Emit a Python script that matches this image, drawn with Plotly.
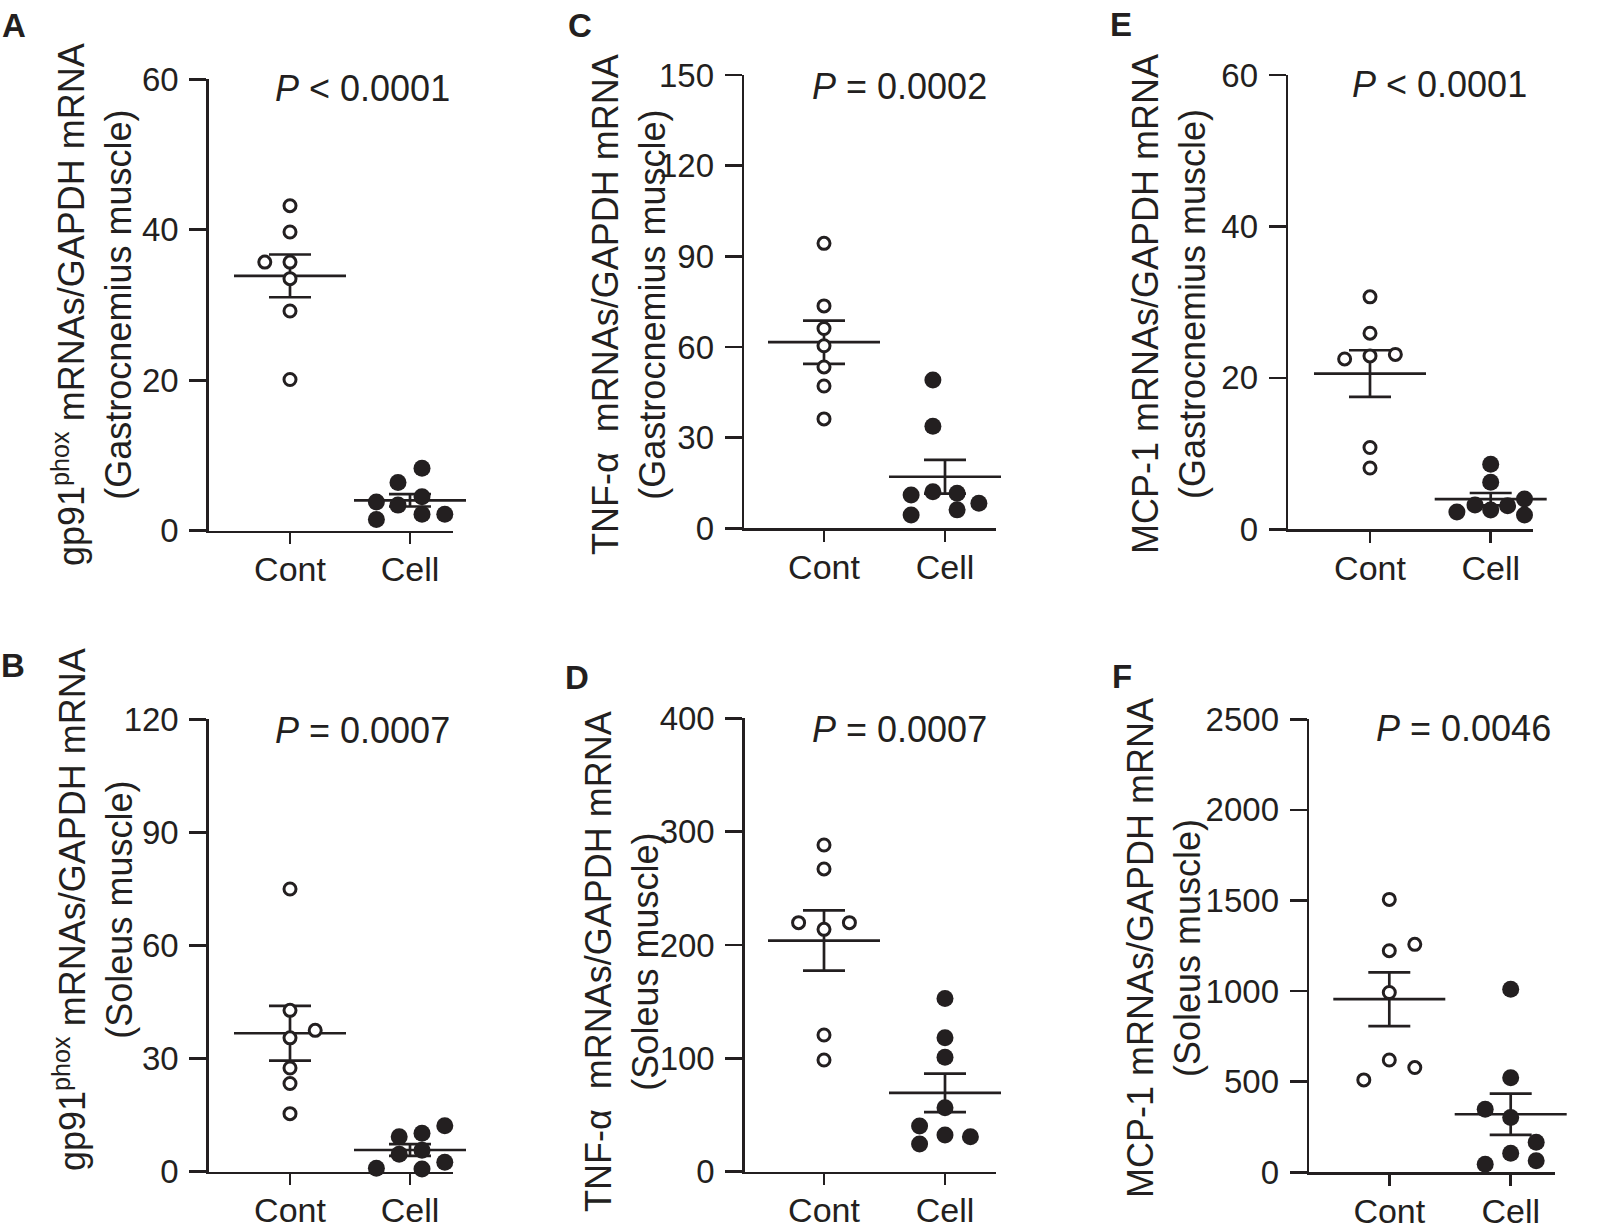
import numpy as np
import plotly.graph_objects as go

W, H = 1597, 1228

# ---------------- data ----------------
categories = ["Cont", "Cell"]

# Panel A: gp91phox, gastrocnemius
a_cont = [43.2, 39.7, 35.7, 35.7, 33.5, 29.2, 20.1]
a_cont_jit = [0, 0, -0.21, 0, 0, 0, 0]
a_cell = [3.8, 1.5, 6.4, 3.4, 8.3, 4.5, 2.2, 2.2]
a_cell_jit = [-0.28, -0.28, -0.1, -0.1, 0.1, 0.1, 0.1, 0.29]

# Panel B: gp91phox, soleus
b_cont = [75.0, 42.8, 37.5, 35.5, 27.5, 23.4, 15.4]
b_cont_jit = [0, 0, 0.21, 0, 0, 0, 0]
b_cell = [0.9, 9.3, 4.6, 10.2, 5.7, 0.7, 12.2, 2.5]
b_cell_jit = [-0.28, -0.09, -0.09, 0.1, 0.1, 0.1, 0.29, 0.29]

# Panel C: TNF-alpha, gastrocnemius
c_cont = [94.3, 73.6, 66.1, 60.4, 53.4, 47.1, 36.2]
c_cont_jit = [0, 0, 0, 0, 0, 0, 0]
c_cell = [49.1, 33.8, 11.0, 12.1, 11.6, 4.4, 6.1, 8.3]
c_cell_jit = [-0.1, -0.1, -0.28, -0.1, 0.1, -0.28, 0.1, 0.28]

# Panel D: TNF-alpha, soleus
d_cont = [288.2, 267.1, 219.7, 219.7, 213.8, 120.6, 98.5]
d_cont_jit = [0, 0, -0.21, 0.21, 0, 0, 0]
d_cell = [152.9, 118.2, 100.9, 56.5, 40.3, 32.4, 30.9, 24.4]
d_cell_jit = [0, 0, 0, 0, -0.21, 0, 0.21, -0.21]

# Panel E: MCP-1, gastrocnemius
e_cont = [30.7, 25.9, 22.9, 22.5, 23.1, 10.8, 8.1]
e_cont_jit = [0, 0, 0, -0.21, 0.21, 0, 0]
e_cell = [8.6, 6.2, 2.3, 3.2, 2.55, 3.1, 4.0, 1.9]
e_cell_jit = [0, 0, -0.28, -0.13, 0, 0.14, 0.28, 0.28]

# Panel F: MCP-1, soleus
f_cont = [1506, 1223, 1258, 992, 620, 578, 510]
f_cont_jit = [0, 0, 0.21, 0, 0, 0.21, -0.21]
f_cell = [1010, 522, 348, 303, 166, 105, 64, 44]
f_cell_jit = [0, 0, -0.21, 0, 0.21, 0, 0.21, -0.21]

a_ticks = [0, 20, 40, 60]
b_ticks = [0, 30, 60, 90, 120]
c_ticks = [0, 30, 60, 90, 120, 150]
d_ticks = [0, 100, 200, 300, 400]
e_ticks = [0, 20, 40, 60]
f_ticks = [0, 500, 1000, 1500, 2000, 2500]

p_labels = ["<i>P</i> &lt; 0.0001", "<i>P</i> = 0.0007", "<i>P</i> = 0.0002",
            "<i>P</i> = 0.0007", "<i>P</i> &lt; 0.0001", "<i>P</i> = 0.0046"]
panel_letters = ["A", "B", "C", "D", "E", "F"]
y_titles = [
    "gp91<sup>phox</sup> mRNAs/GAPDH mRNA<br>(Gastrocnemius muscle)",
    "gp91<sup>phox</sup> mRNAs/GAPDH mRNA<br>(Soleus muscle)",
    "TNF-α  mRNAs/GAPDH mRNA<br>(Gastrocnemius muscle)",
    "TNF-α  mRNAs/GAPDH mRNA<br>(Soleus muscle)",
    "MCP-1 mRNAs/GAPDH mRNA<br>(Gastrocnemius muscle)",
    "MCP-1 mRNAs/GAPDH mRNA<br>(Soleus muscle)",
]

# ---------------- layout geometry (window pixels) ----------------
INK = "#231f20"
FONT = "Liberation Sans, Arial, sans-serif"


def px(x):
    return x / W


def py(y):
    return 1 - y / H


panels = [
    dict(cont=a_cont, cj=a_cont_jit, cell=a_cell, lj=a_cell_jit, ticks=a_ticks,
         ax=209, cx=290, u=120, end=453, yt=79.3, y0=530.7, tt=(92, 305), pp=(362, 88), lt=(14, 25)),
    dict(cont=b_cont, cj=b_cont_jit, cell=b_cell, lj=b_cell_jit, ticks=b_ticks,
         ax=209, cx=290, u=120, end=453, yt=719.3, y0=1171.7, tt=(93, 910), pp=(362, 730), lt=(13, 665)),
    dict(cont=c_cont, cj=c_cont_jit, cell=c_cell, lj=c_cell_jit, ticks=c_ticks,
         ax=744.3, cx=824, u=121, end=996, yt=75, y0=528.3, tt=(629, 305), pp=(899, 86), lt=(580, 25)),
    dict(cont=d_cont, cj=d_cont_jit, cell=d_cell, lj=d_cell_jit, ticks=d_ticks,
         ax=745, cx=824, u=121, end=996, yt=718.3, y0=1171.7, tt=(622, 962), pp=(899, 729), lt=(577, 677)),
    dict(cont=e_cont, cj=e_cont_jit, cell=e_cell, lj=e_cell_jit, ticks=e_ticks,
         ax=1288.3, cx=1370, u=120.7, end=1533, yt=75, y0=529.3, tt=(1169, 304), pp=(1439, 84), lt=(1121, 24)),
    dict(cont=f_cont, cj=f_cont_jit, cell=f_cell, lj=f_cell_jit, ticks=f_ticks,
         ax=1309.3, cx=1389.3, u=121.4, end=1555, yt=719.3, y0=1172.3, tt=(1164, 948), pp=(1463, 728), lt=(1122, 676)),
]

fig = go.Figure()
layout = dict(
    width=W, height=H, autosize=False,
    margin=dict(l=0, r=0, t=0, b=0, pad=0),
    paper_bgcolor="white", plot_bgcolor="white",
    showlegend=False,
    font=dict(family=FONT, color=INK),
    annotations=[],
)

for i, p in enumerate(panels):
    k = "" if i == 0 else str(i + 1)
    xa, ya = "x" + k, "y" + k
    groups = [(0, p["cont"], p["cj"], True), (1, p["cell"], p["lj"], False)]
    # mean +/- SEM
    for idx, vals, jit, hollow in groups:
        v = np.asarray(vals, dtype=float)
        m = v.mean()
        sem = v.std(ddof=1) / np.sqrt(len(v))
        fig.add_trace(go.Scatter(
            x=[idx], y=[m], xaxis=xa, yaxis=ya, mode="markers", cliponaxis=False,
            marker=dict(symbol="line-ew", size=80, color=INK, line=dict(width=2.7, color=INK)),
            error_y=dict(type="data", array=[sem], visible=True, width=21, thickness=2.7, color=INK),
            hoverinfo="skip"))
    # individual points
    for idx, vals, jit, hollow in groups:
        xs = [idx + j for j in jit]
        if hollow:
            mk = dict(symbol="circle", size=12, color="white", line=dict(width=3, color=INK))
        else:
            mk = dict(symbol="circle", size=17, color=INK, line=dict(width=0, color=INK))
        fig.add_trace(go.Scatter(x=xs, y=vals, xaxis=xa, yaxis=ya, mode="markers",
                                 cliponaxis=False, marker=mk))

    xr = [(p["ax"] - p["cx"]) / p["u"], (p["end"] - p["cx"]) / p["u"]]
    layout["xaxis" + k] = dict(
        domain=[px(p["ax"]), px(p["end"])], range=xr, anchor=ya, automargin=False,
        tickvals=[0, 1], ticktext=categories, ticks="outside", ticklen=11, tickwidth=2.7,
        tickcolor=INK, showline=True, linewidth=2.7, linecolor=INK, ticklabelstandoff=-4,
        showgrid=False, zeroline=False, tickfont=dict(size=34, color=INK, family=FONT),
        fixedrange=True)
    layout["yaxis" + k] = dict(
        domain=[py(p["y0"]), py(p["yt"])], range=[0, p["ticks"][-1]], anchor=xa, automargin=False,
        tickvals=p["ticks"], ticks="outside", ticklen=17, tickwidth=2.7, tickcolor=INK,
        showline=True, linewidth=2.7, linecolor=INK, showgrid=False, zeroline=False,
        tickfont=dict(size=33, color=INK, family=FONT), ticklabelstandoff=4, fixedrange=True)

    layout["annotations"] += [
        dict(text=y_titles[i], x=px(p["tt"][0]), y=py(p["tt"][1]), xref="paper", yref="paper",
             textangle=-90, showarrow=False, xanchor="center", yanchor="middle", align="center",
             font=dict(size=36, color=INK, family=FONT)),
        dict(text=p_labels[i], x=px(p["pp"][0]), y=py(p["pp"][1]), xref="paper", yref="paper",
             showarrow=False, xanchor="center", yanchor="middle",
             font=dict(size=36, color=INK, family=FONT)),
        dict(text="<b>" + panel_letters[i] + "</b>", x=px(p["lt"][0]), y=py(p["lt"][1]),
             xref="paper", yref="paper", showarrow=False, xanchor="center", yanchor="middle",
             font=dict(size=33, color=INK, family=FONT)),
    ]

fig.update_layout(**layout)
fig.write_html(
    "out.html",
    config={"displayModeBar": False, "staticPlot": True},
    post_script="document.body.style.margin='0';document.body.style.overflow='hidden';",
)
